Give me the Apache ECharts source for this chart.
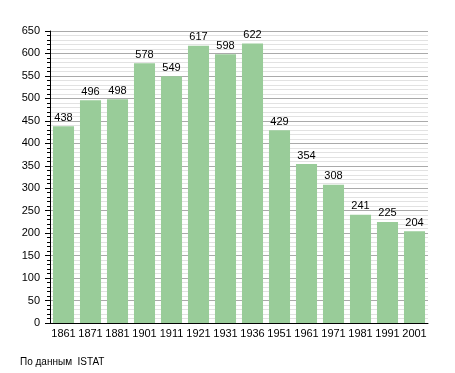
<!DOCTYPE html>
<html><head><meta charset="utf-8">
<script src="https://cdn.jsdelivr.net/npm/echarts@6/dist/echarts.min.js"></script>
<style>html,body{margin:0;padding:0;background:#fff}#c{width:455px;height:373px}</style>
</head><body><div id="c"></div>
<script>
const years = ['1861','1871','1881','1901','1911','1921','1931','1936','1951','1961','1971','1981','1991','2001'];
const population = [438,496,498,578,549,617,598,622,429,354,308,241,225,204];
const yTicks = {min:0, max:650, interval:50};
const source = 'По данным  ISTAT';

const chart = echarts.init(document.getElementById('c'));
chart.setOption({
  animation:false,
  textStyle:{fontFamily:'Liberation Sans, Arial, sans-serif'},
  grid:{left:50, right:27, top:31, bottom:50, containLabel:false},
  graphic:[{type:'text', left:20, top:357, style:{text:source, fontSize:10, fill:'#000', fontFamily:'Liberation Sans, Arial, sans-serif'}}],
  xAxis:{type:'category', data:years,
    axisLine:{lineStyle:{color:'#000', width:1}},
    axisTick:{show:false},
    axisLabel:{color:'#000', fontSize:11, margin:5, interval:0}},
  yAxis:{type:'value', min:yTicks.min, max:yTicks.max, interval:yTicks.interval,
    axisLine:{show:true, lineStyle:{color:'#000'}},
    axisTick:{show:true, length:5, lineStyle:{color:'#000'}},
    minorTick:{show:true, splitNumber:5, length:3, lineStyle:{color:'#000'}},
    axisLabel:{color:'#000', fontSize:11, margin:10},
    splitLine:{lineStyle:{color:'#aaaaaa'}},
    minorSplitLine:{show:true, lineStyle:{color:'#e2e2e2'}}},
  series:[{type:'bar', data:population, barCategoryGap:'22%',
    itemStyle:{color:'#99cc99'},
    label:{show:true, position:'top', color:'#000', fontSize:11, distance:3}}]
});
</script></body></html>
